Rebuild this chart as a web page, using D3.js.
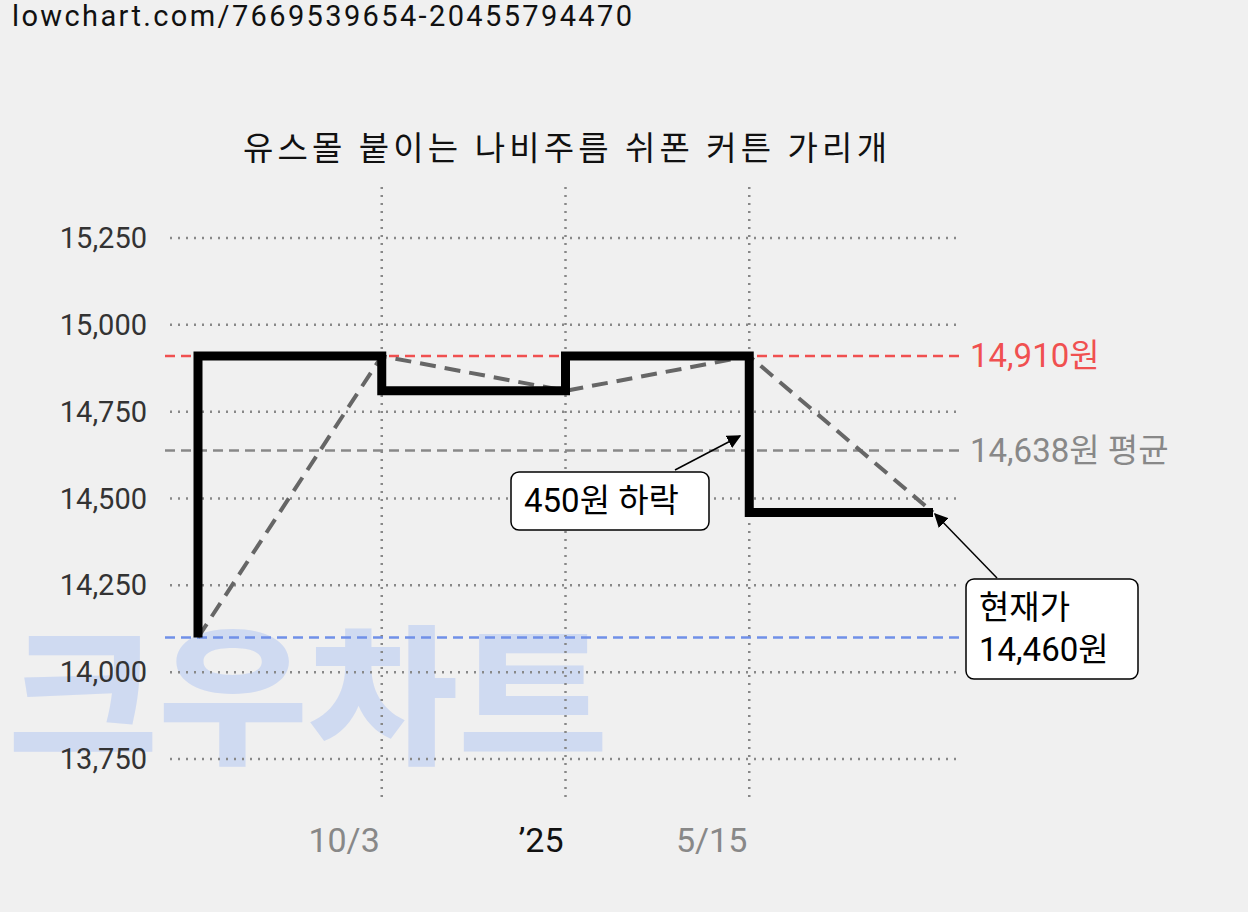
<!DOCTYPE html>
<html><head><meta charset="utf-8">
<script src="https://cdn.jsdelivr.net/npm/d3@7"></script>
<style>body{margin:0;background:#f0f0f0;font-family:Roboto,"Noto Sans CJK KR",sans-serif}</style>
</head><body><svg id="c" width="1248" height="912"></svg>
<script>
const slots = ["s0","10/3","'25","5/15","s4"];
const prices = [14100,14910,14810,14910,14460];
const yTicks = [13750,14000,14250,14500,14750,15000,15250];
const xTickLabels = [{slot:"10/3",text:"10/3",color:"#888"},{slot:"'25",text:"’25",color:"#111"},{slot:"5/15",text:"5/15",color:"#888"}];
const maxP = 14910, minP = 14100, avgP = 14638, curP = 14460;

const svg = d3.select("#c");
const x = d3.scalePoint().domain(slots).range([198,933]);
const y = d3.scaleLinear().domain([13750,15250]).range([759,238]);

svg.append("text").attr("x",12).attr("y",26).attr("font-size",29).attr("fill","#111").attr("textLength",620).text("lowchart.com/7669539654-20455794470");
svg.append("text").attr("x",565).attr("y",160).attr("text-anchor","middle").attr("font-size",33).attr("fill","#111").attr("textLength",644).text("유스몰 붙이는 나비주름 쉬폰 커튼 가리개");

// watermark
svg.append("text").attr("x",8).attr("y",752).attr("font-size",150).attr("font-weight",900).attr("fill","#c5d3f2").attr("opacity",0.75).attr("textLength",600).attr("lengthAdjust","spacingAndGlyphs").text("크우차트");

// grid
yTicks.forEach(t=>{
  svg.append("line").attr("x1",170).attr("x2",960).attr("y1",y(t)).attr("y2",y(t)).attr("stroke","#888").attr("stroke-width",2.5).attr("stroke-dasharray","2,6");
  svg.append("text").attr("x",147).attr("y",y(t)+10).attr("text-anchor","end").attr("font-size",29).attr("fill","#333").text(d3.format(",")(t));
});
xTickLabels.forEach(d=>{
  svg.append("line").attr("x1",x(d.slot)).attr("x2",x(d.slot)).attr("y1",187).attr("y2",800).attr("stroke","#888").attr("stroke-width",2.5).attr("stroke-dasharray","2,6");
  svg.append("text").attr("x",x(d.slot)-2).attr("y",852).attr("text-anchor","end").attr("font-size",34).attr("fill",d.color).text(d.text);
});

// reference lines
function ref(v,c){svg.append("line").attr("x1",165).attr("x2",965).attr("y1",y(v)).attr("y2",y(v)).attr("stroke",c).attr("stroke-width",2.5).attr("stroke-dasharray","10,6");}
ref(maxP,"#f05050"); ref(avgP,"#888"); ref(minP,"#7090e8");
svg.append("text").attr("x",970).attr("y",y(maxP)+11).attr("font-size",33).attr("fill","#f05050").text("14,910원");
svg.append("text").attr("x",970).attr("y",y(avgP)+11).attr("font-size",33).attr("fill","#888").text("14,638원 평균");

const data = slots.map((s,i)=>({s,p:prices[i]}));
svg.append("path").datum(data).attr("fill","none").attr("stroke","#666").attr("stroke-width",4).attr("stroke-dasharray","16,9")
  .attr("d",d3.line().x(d=>x(d.s)).y(d=>y(d.p)));
svg.append("path").datum(data).attr("fill","none").attr("stroke","#000").attr("stroke-width",9)
  .attr("d",d3.line().x(d=>x(d.s)).y(d=>y(d.p)).curve(d3.curveStepBefore));

// annotations
const defs = svg.append("defs");
defs.append("marker").attr("id","ah").attr("viewBox","0 0 10 10").attr("refX",9).attr("refY",5).attr("markerWidth",9).attr("markerHeight",9).attr("markerUnits","userSpaceOnUse").attr("orient","auto")
  .append("path").attr("d","M0,0L10,5L0,10z").attr("fill","#000");
defs.select("marker").attr("markerWidth",14).attr("markerHeight",14);
function box(bx,by,w,h,lines){
  svg.append("rect").attr("x",bx).attr("y",by).attr("width",w).attr("height",h).attr("rx",8).attr("fill","#fff").attr("stroke","#000").attr("stroke-width",1.5);
  lines.forEach((l,i)=>svg.append("text").attr("x",bx+13).attr("y",by+40+i*42).attr("font-size",33).attr("fill","#000").text(l));
}
svg.append("line").attr("x1",675).attr("y1",470).attr("x2",740).attr("y2",436).attr("stroke","#000").attr("stroke-width",1.5).attr("marker-end","url(#ah)");
box(511,472,198,58,["450원 하락"]);
svg.append("line").attr("x1",997).attr("y1",578).attr("x2",935).attr("y2",514).attr("stroke","#000").attr("stroke-width",1.5).attr("marker-end","url(#ah)");
box(966,579,172,100,["현재가","14,460원"]);
</script></body></html>
